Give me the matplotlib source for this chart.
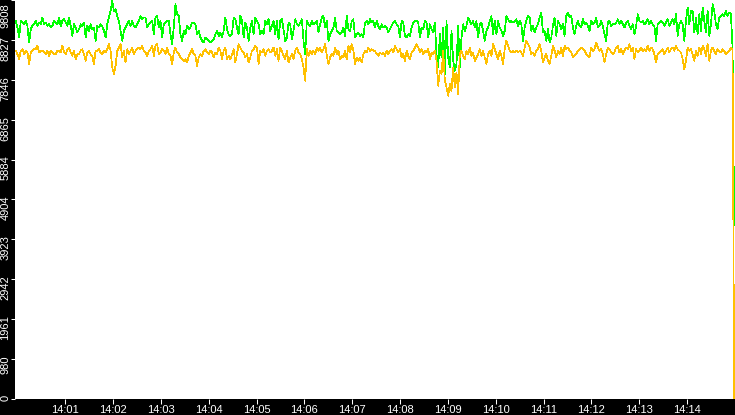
import matplotlib.pyplot as plt
import matplotlib.dates as mdates
import matplotlib.transforms as mtransforms
import pandas as pd

# readings of the two series, one sample about every 2 s
green = [
    9294, 9130, 8885, 9294, 9253, 9212, 9294, 9171, 8763, 9090,
    9171, 9212, 9294, 9171, 9253, 9212, 9376, 9212, 9253, 9171,
    9212, 9130, 9171, 9294, 9253, 9212, 9376, 9171, 9294, 9335,
    9253, 9171, 9376, 9171, 8926, 9212, 9130, 9008, 9090, 9212,
    9171, 9253, 8885, 9171, 9049, 9212, 9090, 9130, 8804, 9171,
    9130, 9212, 9171, 9049, 8885, 9212, 9376, 9539, 9784, 9539,
    9580, 9416, 9294, 9049, 8804, 9049, 9130, 9212, 9294, 9171,
    9294, 9171,
    9130, 9212, 9294, 9416, 9335, 9376, 9376, 9130, 9212, 9253,
    9294, 8967, 9376, 9416, 9130, 9294, 8885, 9212, 9253, 9294,
    9294, 8967, 8722, 9130, 9702, 9457, 9416, 8967, 8804, 9049,
    8967, 9171, 9090, 9130, 9253, 9253, 9212, 8967, 9049, 8885,
    8804, 8763, 8885, 8844, 8804, 8763, 8804, 8844, 8967, 9049,
    8926, 9008, 8885, 9049, 9376, 9090, 8967, 8926, 8967, 9376,
    9335, 9130, 8967, 9416, 9294, 8885, 9253, 9130, 8804, 9130,
    9294, 8967,
    9376, 9294, 9212, 8967, 9049, 8967, 9294, 9212, 9335, 9049,
    9171, 9294, 8967, 9294, 8844, 9294, 9335, 9090, 8804, 8885,
    9253, 9212, 8844, 9049, 9335, 9212, 9171, 9253, 9335, 8804,
    8477, 9294, 9212, 9171, 9294, 9212, 9253, 9294, 9008, 9212,
    9376, 9416, 9130, 9294, 8804, 8967, 9049, 9130, 9376, 9049,
    9008, 8967, 9008, 9130, 8926, 9416, 9090, 9049, 9294, 9335,
    8885, 8967, 9008, 8926, 8967, 8885, 9253, 9294, 9212, 9335,
    9253, 9294,
    9130, 9294, 9171, 9090, 9212, 9130, 9171, 9130, 9008, 9090,
    9171, 9253, 9294, 9212, 9171, 8885, 9294, 9253, 8926, 8885,
    8967, 8926, 9130, 9253, 9294, 9294, 9253, 8885, 9130, 9090,
    9294, 9253, 8885, 9212, 9090, 9008, 9253, 8477, 8150, 8967,
    8395, 9130, 7987, 9294, 8395, 8150, 9049, 8313, 8068, 8232,
    9171, 8150, 8885, 9212, 9049, 9171, 9376, 9294, 9212, 9294,
    9130, 9294, 8885, 9212, 9253, 9049, 8804, 9049, 9130, 9294,
    9416, 8967,
    9294, 8967, 9294, 9130, 9049, 8926, 9049, 9416, 9335, 9253,
    9294, 9253, 9294, 9335, 9171, 9294, 9212, 8804, 9130, 9294,
    9416, 9376, 9049, 9171, 9008, 9130, 9212, 9376, 9498, 9008,
    9049, 8804, 9090, 8763, 8885, 9171, 9376, 8926, 9294, 9212,
    9090, 9212, 8926, 9416, 9498, 9376, 9416, 9130, 8967, 9171,
    9294, 9171, 9130, 9335, 9212, 9253, 9171, 9049, 9294, 9212,
    9253, 9376, 9130, 9171, 9294, 9171, 8967, 8804, 9253, 9294,
    9171, 9212,
    9212, 9253, 9335, 9212, 9294, 9212, 9130, 9253, 9294, 9171,
    9090, 9212, 8967, 9171, 9457, 9294, 9253, 9294, 9212, 9253,
    9335, 9212, 9294, 9212, 9171, 8804, 9212, 9253, 9294, 9253,
    9171, 9253, 9335, 9171, 9253, 9335, 9212, 9457, 8926, 9212,
    9294, 9212, 8804, 9294, 9621, 9212, 9539, 9539, 9008, 9376,
    8967, 9457, 9049, 9621, 9294, 9008, 9539, 8926, 9212, 9702,
    9539, 9212, 9090, 9376, 9416, 9457, 9416, 9539, 9416, 9498,
    9457, 8640,
    4270,
]

amber = [
    8559, 8477, 8354, 8559, 8599, 8477, 8559, 8518, 8232, 8518,
    8559, 8599, 8599, 8681, 8518, 8559, 8559, 8518, 8477, 8559,
    8436, 8559, 8518, 8477, 8477, 8559, 8559, 8518, 8681, 8518,
    8477, 8599, 8640, 8518, 8436, 8559, 8354, 8477, 8477, 8559,
    8599, 8477, 8313, 8518, 8559, 8477, 8436, 8232, 8559, 8559,
    8599, 8518, 8477, 8559, 8518, 8599, 8722, 8559, 8150, 7987,
    8191, 8559, 8640, 8722, 8395, 8559, 8273, 8599, 8477, 8559,
    8640, 8477,
    8559, 8599, 8640, 8599, 8681, 8559, 8518, 8436, 8559, 8599,
    8681, 8436, 8681, 8722, 8477, 8518, 8599, 8559, 8477, 8640,
    8477, 8436, 8232, 8518, 8640, 8518, 8477, 8395, 8354, 8313,
    8354, 8273, 8436, 8518, 8599, 8477, 8436, 8191, 8395, 8477,
    8436, 8559, 8599, 8518, 8477, 8559, 8518, 8395, 8518, 8477,
    8640, 8559, 8354, 8559, 8640, 8354, 8436, 8354, 8477, 8599,
    8273, 8477, 8722, 8640, 8559, 8518, 8395, 8477, 8273, 8395,
    8559, 8599,
    8681, 8640, 8232, 8559, 8518, 8599, 8436, 8559, 8599, 8518,
    8559, 8640, 8436, 8599, 8313, 8640, 8559, 8436, 8354, 8559,
    8273, 8395, 8477, 8354, 8559, 8640, 8518, 8477, 8354, 8150,
    7823, 8599, 8436, 8559, 8477, 8559, 8477, 8640, 8559, 8640,
    8518, 8599, 8722, 8436, 8232, 8395, 8477, 8436, 8640, 8477,
    8559, 8354, 8436, 8395, 8559, 8354, 8681, 8518, 8722, 8559,
    8232, 8395, 8313, 8395, 8273, 8477, 8559, 8518, 8640, 8559,
    8599, 8559,
    8559, 8477, 8436, 8518, 8477, 8518, 8436, 8559, 8477, 8559,
    8599, 8518, 8681, 8599, 8518, 8599, 8395, 8477, 8313, 8559,
    8436, 8354, 8518, 8559, 8640, 8722, 8640, 8518, 8599, 8477,
    8559, 8518, 8599, 8354, 8518, 8477, 8559, 8313, 7701, 8068,
    7987, 8559, 7823, 7660, 7456, 7742, 7578, 8150, 7660, 8027,
    7496, 8477, 8559, 8436, 8354, 8559, 8477, 8640, 8436, 8518,
    8313, 8395, 8477, 8599, 8436, 8559, 8395, 8232, 8477, 8559,
    8436, 8722,
    8599, 8477, 8354, 8559, 8436, 8232, 8599, 8804, 8681, 8559,
    8518, 8559, 8518, 8559, 8518, 8559, 8518, 8436, 8640, 8804,
    8722, 8640, 8477, 8518, 8436, 8559, 8599, 8722, 8559, 8273,
    8395, 8477, 8313, 8232, 8436, 8681, 8559, 8395, 8559, 8477,
    8640, 8436, 8681, 8599, 8640, 8559, 8518, 8395, 8436, 8477,
    8559, 8599, 8640, 8599, 8559, 8477, 8436, 8395, 8640, 8559,
    8599, 8763, 8640, 8559, 8599, 8477, 8273, 8477, 8640, 8599,
    8518, 8477,
    8518, 8640, 8681, 8518, 8599, 8477, 8559, 8640, 8599, 8722,
    8559, 8640, 8354, 8599, 8518, 8559, 8640, 8559, 8599, 8559,
    8681, 8559, 8640, 8599, 8477, 8273, 8477, 8518, 8559, 8599,
    8477, 8559, 8640, 8518, 8599, 8640, 8559, 8681, 8599, 8559,
    8518, 8354, 8109, 8313, 8640, 8559, 8599, 8477, 8313, 8559,
    8436, 8640, 8477, 8681, 8599, 8436, 8722, 8313, 8559, 8640,
    8559, 8477, 8599, 8559, 8518, 8599, 8559, 8477, 8518, 8559,
    8640, 8599,
    0,
]

y_ticks = [0, 980, 1961, 2942, 3923, 4904, 5884, 6865, 7846, 8827, 9808]

times = pd.date_range("2024-01-01 13:59:58", "2024-01-01 14:14:59",
                      periods=len(green))

plt.rcParams['font.family'] = 'Liberation Sans'

fig = plt.figure(figsize=(7.35, 4.15), dpi=100, facecolor='black')
ax = fig.add_axes([15 / 735, 16 / 415, 720 / 735, 399 / 415])
ax.set_facecolor('white')

ax.plot(times, green, color='#00ff00', lw=0.5, antialiased=False)
ax.plot(times, amber, color='#ffc000', lw=0.5, antialiased=False)

ax.set_xlim(pd.Timestamp("2024-01-01 13:59:57"),
            pd.Timestamp("2024-01-01 14:15:00"))
ax.set_ylim(0, 9808)

ax.xaxis.set_major_locator(mdates.MinuteLocator(byminute=range(1, 15)))
ax.xaxis.set_major_formatter(mdates.DateFormatter('%H:%M'))
ax.set_yticks(y_ticks)
ax.set_yticklabels([str(v) for v in y_ticks], rotation=90, va='top')

ax.tick_params(axis='x', colors='white', length=3.6, width=0.75,
               pad=0.5, labelsize=8)
ax.tick_params(axis='y', colors='white', length=2.9, width=0.75,
               pad=0.5, labelsize=8)

# labels hang just below their tick, the top one stays inside the figure
labels = ax.get_yticklabels()
for lab in labels[:-1]:
    lab.set_transform(lab.get_transform() + mtransforms.ScaledTranslation(
        0, 0.04, fig.dpi_scale_trans))
labels[-1].set_transform(labels[-1].get_transform() + mtransforms.ScaledTranslation(
    0, -0.03, fig.dpi_scale_trans))

for s in ax.spines.values():
    s.set_visible(False)

fig.savefig('out.png', dpi=100, facecolor='black')
